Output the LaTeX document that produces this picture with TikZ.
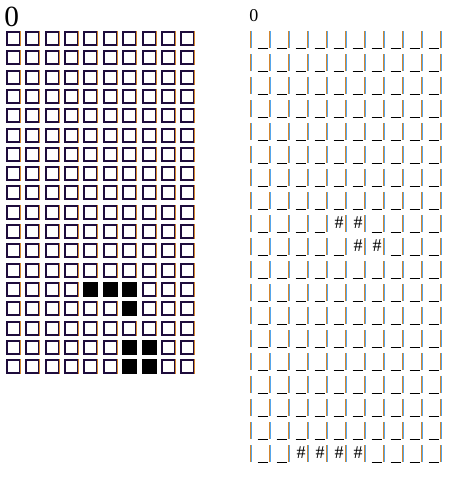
\documentclass[tikz,border=0pt]{standalone}
\usepackage{fontspec}
\setmainfont{Liberation Serif}
\usetikzlibrary{positioning}
\definecolor{barorange}{RGB}{212,134,46}
\definecolor{barblue}{RGB}{84,166,236}
\definecolor{boxink}{RGB}{30,12,60}
\tikzset{
	cell/.style ={draw=boxink, line width=1.35pt},
	alive/.style ={fill=black},
	fringe/.style ={barorange, line width=0.6pt},
	barL/.style ={barorange, line width=0.75pt},
	barR/.style ={barblue, line width=0.75pt},
	under/.style ={black, line width=0.95pt},
	hash/.style ={inner sep=0pt, anchor=base, font=\fontsize{13.5}{16}\selectfont},
	bigzero/.style ={inner sep=0pt, anchor=base, font=\fontsize{22}{26}\selectfont},
	smallzero/.style ={inner sep=0pt, anchor=base, font=\fontsize{13.5}{16}\selectfont}
}

\begin{document}
\begin{tikzpicture}[x=0.75pt, y=-0.75pt]
    \useasboundingbox (0,0) rectangle (472,500);

    % left board
    \node[bigzero] (genA) at (11.7,26.3) {0};
    \foreach \c in {0,...,9}
        \foreach \r in {0,...,17}{
            \pgfmathsetmacro{\xa}{round(6+19.37*\c)}
            \pgfmathsetmacro{\ya}{round(31+19.3*\r)}
            \draw[cell] ({\xa+0.9},{\ya+0.9}) rectangle +(12.8,12.8);
            \draw[fringe] ({\xa+14.4},\ya) -- +(0,14.6);
        }
    \foreach \c/\r in {4/13,5/13,6/13,6/14,6/16,7/16,6/17,7/17}
        \fill[alive] ({round(6+19.37*\c)},{round(31+19.3*\r)}) rectangle +(14.6,14.6);

    % right board
    \node[smallzero] (genB) at (253.8,21.7) {0};
    \foreach \r in {0,...,18}
        \foreach \k in {0,...,10}{
            \draw[barL] ({250.5+19*\k},{31+23*\r}) -- +(0,17.3);
            \draw[barR] ({251.5+19*\k},{31+23*\r}) -- +(0,17.3);
        }
    \foreach \r in {0,...,18}
        \foreach \k in {0,...,9}{
            \pgfmathtruncatemacro{\ishash}{(\r==8 && (\k==4 || \k==5)) || (\r==9 && (\k==5 || \k==6)) || (\r==18 && \k>1 && \k<6)}
            \ifnum\ishash=1
                \node[hash] (hash-\r-\k) at ({263+19*\k},{44.5+23*\r}) {\#};
            \else
                \draw[under] ({257.7+19*\k},{48.3+23*\r}) -- +(10.6,0);
            \fi
        }

\end{tikzpicture}
\end{document}
